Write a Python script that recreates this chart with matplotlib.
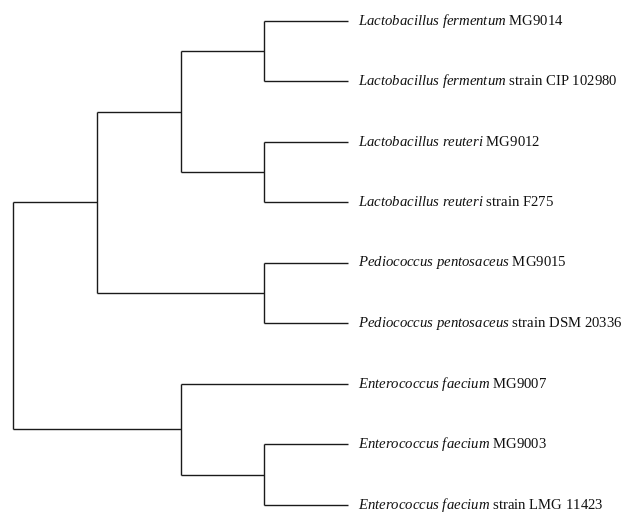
import matplotlib
matplotlib.use('Agg')
import matplotlib.pyplot as plt

plt.rcParams['font.family'] = 'Liberation Serif'
plt.rcParams['mathtext.fontset'] = 'custom'
plt.rcParams['mathtext.rm'] = 'Liberation Serif'
plt.rcParams['mathtext.it'] = 'Liberation Serif:italic'

# Leaf labels, top to bottom: species (italic) and strain name
species = ['Lactobacillus fermentum', 'Lactobacillus fermentum',
           'Lactobacillus reuteri', 'Lactobacillus reuteri',
           'Pediococcus pentosaceus', 'Pediococcus pentosaceus',
           'Enterococcus faecium', 'Enterococcus faecium',
           'Enterococcus faecium']
strains = ['MG9014', 'strain CIP 102980', 'MG9012', 'strain F275',
           'MG9015', 'strain DSM 20336', 'MG9007', 'MG9003',
           'strain LMG 11423']

# Joins: (child a, child b, height); ids >= 9 refer to earlier joins
merges = [(0, 1, 1), (2, 3, 1), (9, 10, 2), (4, 5, 1), (11, 12, 3),
          (7, 8, 1), (6, 14, 2), (13, 15, 4)]

n = len(species)
ypos = list(range(n))
height = [0] * n
for a, b, h in merges:
    ypos.append((ypos[a] + ypos[b]) / 2)
    height.append(h)

fig = plt.figure(figsize=(6.21, 5.14), dpi=100)
W, H = 621, 514
ax = fig.add_axes([13.3 / W, (H - 505) / H, (348 - 13.3) / W, (505 - 20.7) / H])
ax.set_xlim(4, 0)
ax.set_ylim(n - 1, 0)
ax.axis('off')

lc = '#1a1a1a'
lw = 1.0
for k, (a, b, h) in enumerate(merges):
    ax.plot([h, h], [ypos[a], ypos[b]], color=lc, lw=lw,
            solid_capstyle='butt', clip_on=False)
    for c in (a, b):
        ax.plot([height[c], h], [ypos[c], ypos[c]], color=lc, lw=lw,
                solid_capstyle='butt', clip_on=False)

for i in range(n):
    sp = species[i].replace(' ', r'\ ')
    label = r'$\mathit{' + sp + '}$ ' + strains[i]
    ax.annotate(label, xy=(0, ypos[i]), xytext=(7.2, 0),
                textcoords='offset points', va='center', ha='left',
                fontsize=10.6, color='#111111', annotation_clip=False)

fig.savefig('out.png', dpi=100)
